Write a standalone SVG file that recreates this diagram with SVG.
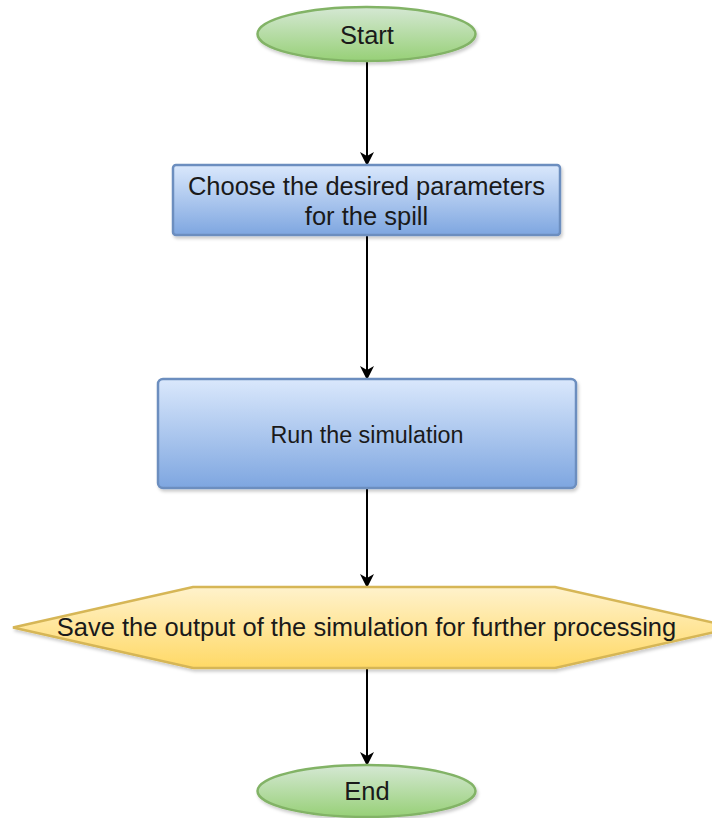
<svg xmlns="http://www.w3.org/2000/svg" width="712" height="818" viewBox="0 0 712 818">
<style>
  .t { font-family: "Liberation Sans", Arial, sans-serif; font-size: 25.5px; fill: #1a1a1a; text-anchor: middle; }
  .edge { stroke: #000; stroke-width: 2; fill: none; marker-end: url(#arr); }
</style>
<defs>
  <linearGradient id="gGreen" x1="0" y1="0" x2="0" y2="1">
    <stop offset="0" stop-color="#d5e8d4"/>
    <stop offset="1" stop-color="#97d077"/>
  </linearGradient>
  <linearGradient id="gBlue" x1="0" y1="0" x2="0" y2="1">
    <stop offset="0" stop-color="#dae8fc"/>
    <stop offset="1" stop-color="#7ea6e0"/>
  </linearGradient>
  <linearGradient id="gYellow" x1="0" y1="0" x2="0" y2="1">
    <stop offset="0" stop-color="#fff2cc"/>
    <stop offset="1" stop-color="#ffd966"/>
  </linearGradient>
  <filter id="sh" x="-10%" y="-10%" width="120%" height="130%">
    <feDropShadow dx="1.5" dy="2.5" stdDeviation="1.5" flood-color="#000" flood-opacity="0.2"/>
  </filter>
  <marker id="arr" viewBox="0 0 14 14" refX="13" refY="7" markerWidth="14" markerHeight="14" markerUnits="userSpaceOnUse" orient="auto">
    <path d="M0,0 L14,7 L0,14 L4,7 Z" fill="#000"/>
  </marker>
</defs>

<g id="connectors">
  <line class="edge" x1="367" y1="61" x2="367" y2="165"/>
  <line class="edge" x1="367" y1="235" x2="367" y2="379"/>
  <line class="edge" x1="367" y1="488" x2="367" y2="587"/>
  <line class="edge" x1="367" y1="668" x2="367" y2="765"/>
</g>

<g id="start">
  <ellipse cx="366.5" cy="34" rx="109" ry="27" fill="url(#gGreen)" stroke="#82b366" stroke-width="2.5" filter="url(#sh)"/>
  <text class="t" x="367" y="43.5">Start</text>
</g>

<g id="choose">
  <rect x="173" y="165" width="387" height="70" rx="3" fill="url(#gBlue)" stroke="#6c8ebf" stroke-width="2.5" filter="url(#sh)"/>
  <text class="t" x="366.5" y="195">Choose the desired parameters</text>
  <text class="t" x="366.5" y="225">for the spill</text>
</g>

<g id="run">
  <rect x="158" y="379" width="418" height="109" rx="5" fill="url(#gBlue)" stroke="#6c8ebf" stroke-width="2.5" filter="url(#sh)"/>
  <text class="t" x="367" y="443" style="font-size:23.3px">Run the simulation</text>
</g>

<g id="save">
  <polygon points="13,627.5 193,587 555,587 735,627.5 555,668 193,668" fill="url(#gYellow)" stroke="#d6b656" stroke-width="2.5" filter="url(#sh)"/>
  <text class="t" x="366.5" y="635.5">Save the output of the simulation for further processing</text>
</g>

<g id="end">
  <ellipse cx="366.5" cy="791" rx="109" ry="26" fill="url(#gGreen)" stroke="#82b366" stroke-width="2.5" filter="url(#sh)"/>
  <text class="t" x="367" y="800">End</text>
</g>
</svg>
